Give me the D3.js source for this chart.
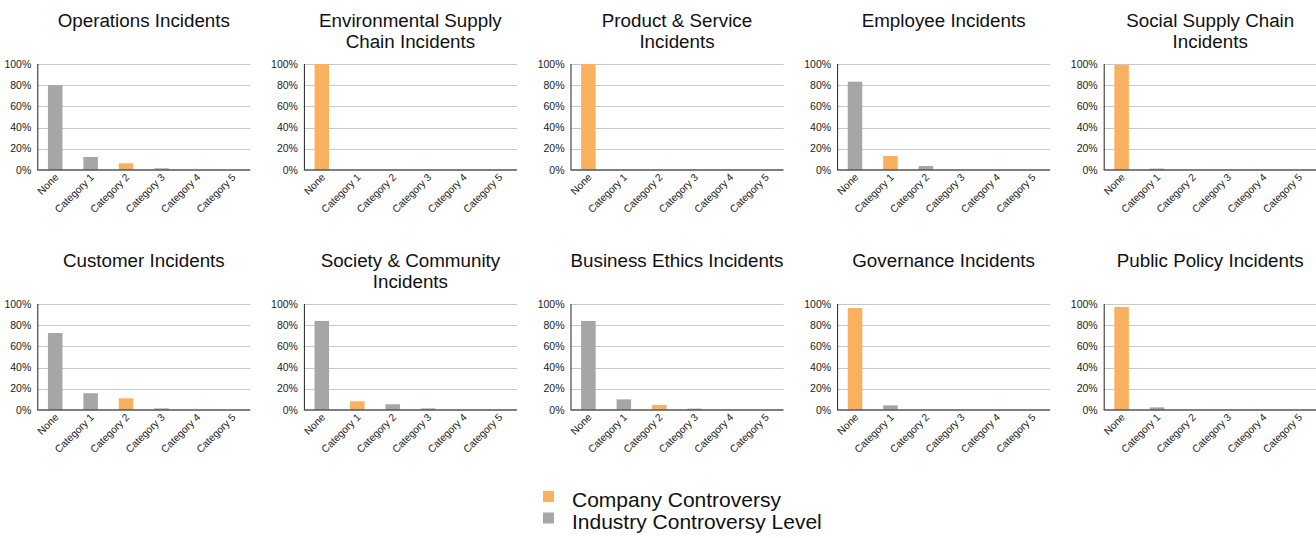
<!DOCTYPE html>
<html>
<head>
<meta charset="utf-8">
<script src="https://cdn.jsdelivr.net/npm/d3@7"></script>
<style>
  body { margin: 0; background: #fff; }
  svg { display: block; font-family: "Liberation Sans", Arial, sans-serif; }
</style>
</head>
<body>
<svg></svg>
<script>
const categories = ["None", "Category 1", "Category 2", "Category 3", "Category 4", "Category 5"];
const panelTitles = [
  ["Operations Incidents"],
  ["Environmental Supply", "Chain Incidents"],
  ["Product & Service", "Incidents"],
  ["Employee Incidents"],
  ["Social Supply Chain", "Incidents"],
  ["Customer Incidents"],
  ["Society & Community", "Incidents"],
  ["Business Ethics Incidents"],
  ["Governance Incidents"],
  ["Public Policy Incidents"]
];
// share of industry peers in each category (%)
const industryValues = [
  [80.1, 12.3, 6.3, 1.6, 0, 0],
  [100, 0, 0, 0, 0, 0],
  [100, 0, 0, 0, 0, 0],
  [83.3, 13.2, 3.8, 0, 0, 0],
  [99, 1.3, 0, 0, 0, 0],
  [72.6, 15.8, 11, 1.5, 0, 0],
  [84, 8.2, 5.4, 1.5, 0, 0],
  [84, 10, 4.7, 1.3, 0, 0],
  [96.2, 4.4, 0, 0, 0, 0],
  [97.2, 2.5, 0, 0, 0, 0]
];
// index of the category the company sits in
const companyCategory = [2, 0, 0, 1, 0, 2, 1, 2, 0, 0];
const yTicks = [0, 20, 40, 60, 80, 100];
const legendLabels = ["Company Controversy", "Industry Controversy Level"];

const orange = "#f9b05f";
const grey = "#a6a6a6";

const width = 1316;
const height = 538;
const svg = d3.select("svg").attr("width", width).attr("height", height);

const plotW = 213;
const plotTop = 64;
const plotH = 106;
const colStep = 266.6;
const rowStep = 240;
const firstX = 37.3;

const x = d3.scaleBand().domain(categories).range([0, plotW])
  .paddingInner(0.59).paddingOuter(0.3);
const y = d3.scaleLinear().domain([0, 100]).range([plotH, 0]);

const panels = svg.selectAll("g.panel")
  .data(industryValues.map((vals, i) => ({ vals, i })))
  .join("g")
  .classed("panel", true)
  .attr("transform", d => `translate(${firstX + (d.i % 5) * colStep},${Math.floor(d.i / 5) * rowStep})`);

// titles
panels.append("text")
  .attr("text-anchor", "middle")
  .attr("font-size", 18.8)
  .attr("fill", "#111")
  .each(function(d) {
    d3.select(this).selectAll("tspan")
      .data(panelTitles[d.i])
      .join("tspan")
      .attr("x", plotW / 2)
      .attr("y", (_, k) => 27 + k * 21)
      .text(t => t);
  });

const plots = panels.append("g").attr("transform", `translate(0,${plotTop})`);

// gridlines
plots.selectAll("line.grid")
  .data(yTicks.filter(t => t > 0))
  .join("line")
  .classed("grid", true)
  .attr("x1", 0)
  .attr("x2", plotW)
  .attr("y1", t => Math.round(y(t)) + 0.5)
  .attr("y2", t => Math.round(y(t)) + 0.5)
  .attr("stroke", "#c8c8c8");

// y axis labels
plots.selectAll("text.ytick")
  .data(yTicks)
  .join("text")
  .classed("ytick", true)
  .attr("x", -6)
  .attr("y", t => y(t))
  .attr("dy", "0.35em")
  .attr("text-anchor", "end")
  .attr("font-size", 10.5)
  .attr("fill", "#222")
  .text(t => t + "%");

// bars
plots.selectAll("rect.bar")
  .data(d => d.vals.map((v, k) => ({ v, k, company: companyCategory[d.i] === k })))
  .join("rect")
  .classed("bar", true)
  .attr("x", d => x(categories[d.k]))
  .attr("width", x.bandwidth())
  .attr("y", d => y(d.v))
  .attr("height", d => plotH - y(d.v))
  .attr("fill", d => (d.company ? orange : grey));

// axis lines
plots.append("line")
  .attr("x1", 0.5).attr("x2", 0.5)
  .attr("y1", 0).attr("y2", plotH)
  .attr("stroke", "#222");
plots.append("line")
  .attr("x1", 0).attr("x2", plotW)
  .attr("y1", plotH).attr("y2", plotH)
  .attr("stroke", "#555")
  .attr("stroke-width", 1.5);

// x labels
plots.selectAll("text.xtick")
  .data(categories)
  .join("text")
  .classed("xtick", true)
  .attr("transform", c => `translate(${x(c) + x.bandwidth() / 2 + 4},${plotH + 8}) rotate(-45)`)
  .attr("text-anchor", "end")
  .attr("font-size", 10.3)
  .attr("fill", "#222")
  .text(c => c);

// legend
const legend = svg.append("g").attr("transform", "translate(543,491)");
const legendItems = legend.selectAll("g")
  .data(legendLabels)
  .join("g")
  .attr("transform", (_, i) => `translate(0,${i * 21.5})`);
legendItems.append("rect")
  .attr("width", 11)
  .attr("height", 11)
  .attr("fill", (_, i) => (i === 0 ? orange : grey));
legendItems.append("text")
  .attr("x", 29)
  .attr("y", 16)
  .attr("font-size", 21)
  .attr("fill", "#111")
  .text(d => d);
</script>
</body>
</html>
